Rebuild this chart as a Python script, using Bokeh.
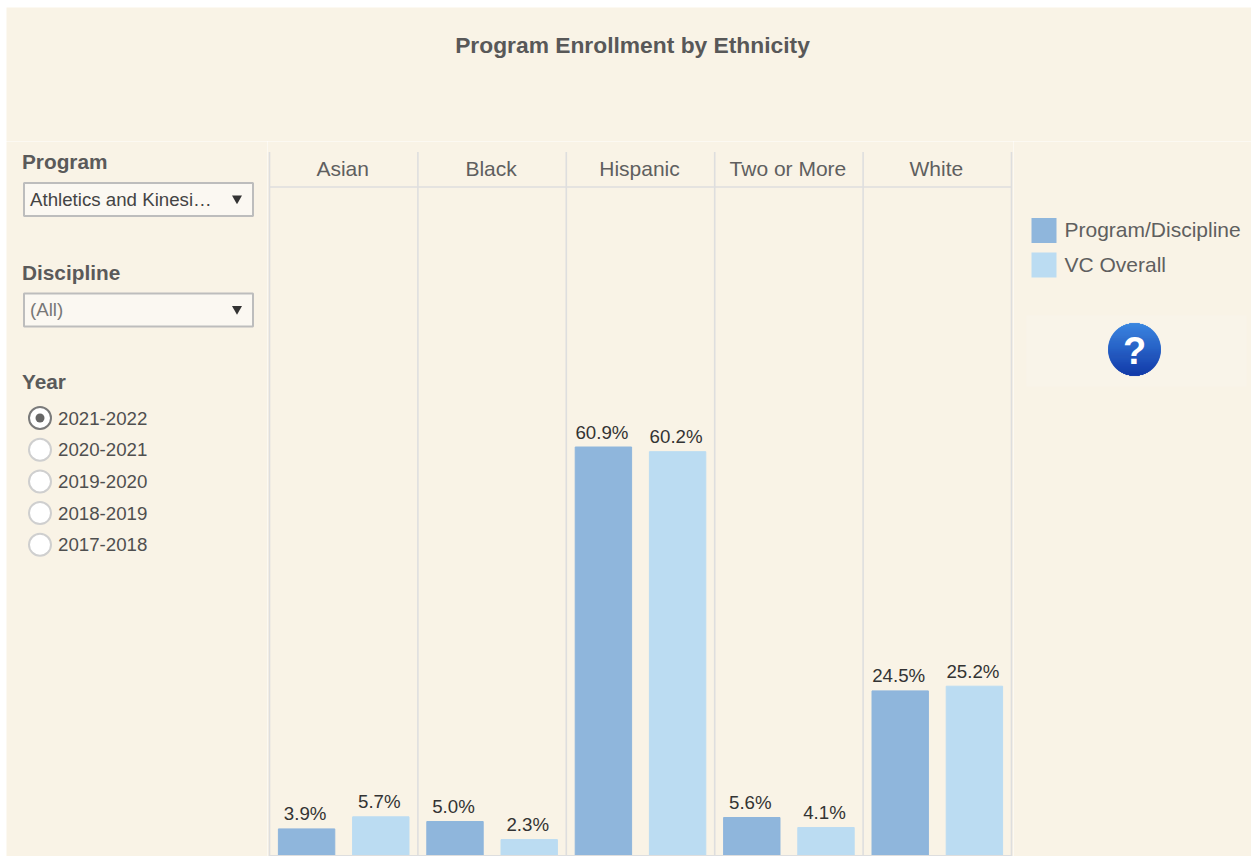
import numpy as np
from bokeh.core.properties import value
from bokeh.embed import file_html
from bokeh.layouts import column, row
from bokeh.models import ColumnDataSource, FactorRange, Range1d
from bokeh.plotting import figure
from bokeh.resources import INLINE

# ---- data ----
ethnicities = ["Asian", "Black", "Hispanic", "Two or More", "White"]
series_names = ["Program/Discipline", "VC Overall"]
program_values = [3.9, 5.0, 60.9, 5.6, 24.5]
overall_values = [5.7, 2.3, 60.2, 4.1, 25.2]
years = ["2021-2022", "2020-2021", "2019-2020", "2018-2019", "2017-2018"]
title_text = "Program Enrollment by Ethnicity"

# ---- style ----
BG = "#F9F3E6"
C1 = "#8FB6DC"
C2 = "#BBDCF2"
RULE = "#DEDEDE"
GREY = "#5F5F5F"
FONT = "Liberation Sans"
f = value(FONT)


def pane(w, h, x0, y0):
    """A figure whose data coordinates are the pixel coordinates of the reference."""
    p = figure(width=w, height=h, x_range=Range1d(x0, x0 + w), y_range=Range1d(y0 + h, y0),
               toolbar_location=None, output_backend="svg", min_border=0,
               background_fill_color=BG, border_fill_color=BG, outline_line_color=None)
    p.axis.visible = False
    p.grid.visible = False
    return p


def label(p, x, y, s, size, color=GREY, style="normal", align="left"):
    p.text(x=[x], y=[y], text=[s], text_font=f, text_font_size=f"{size}px", text_color=color,
           text_font_style=style, text_align=align, text_baseline="middle")


# ---- title strip ----
top = pane(1245, 134, 7, 8)
label(top, 633, 45, title_text, 22.8, "#585858", "bold", "center")

# ---- left controls ----
left = pane(261, 715, 6.5, 141.5)
label(left, 22, 161, "Program", 20.8, "#5A5A5A", "bold")
label(left, 22, 272, "Discipline", 20.8, "#5A5A5A", "bold")
label(left, 22, 381, "Year", 20.8, "#5A5A5A", "bold")
for yc, txt, col in [(199.5, "Athletics and Kinesi…", "#444444"), (310, "(All)", "#777777")]:
    left.rect(x=[138.5], y=[yc], width=229, height=33, fill_color="#FBF8F2",
              line_color="#BDBDBD", line_width=2)
    label(left, 30, yc - 0.5, txt, 18.7, col)
    left.scatter(x=[237], y=[yc - 1], marker="inverted_triangle", size=10,
                 fill_color="#333333", line_color=None)
for i, yr in enumerate(years):
    yc = 418 + i * 31.7
    left.scatter(x=[40], y=[yc], marker="circle", size=22, fill_color="#FFFFFF",
                 line_color="#7A7A7A" if i == 0 else "#CFCFCF", line_width=2)
    if i == 0:
        left.scatter(x=[40], y=[yc], marker="circle", size=9, fill_color="#666666", line_color=None)
    label(left, 58, yc, yr, 18.7, "#4F4F4F")

# ---- main chart ----
factors = [(e, s) for e in ethnicities for s in series_names]
src = ColumnDataSource(dict(
    x=factors,
    top=[v for pair in zip(program_values, overall_values) for v in pair],
    color=[C1, C2] * len(ethnicities),
))
src.data["label"] = [f"{v:.1f}%" for v in src.data["top"]]

main = figure(width=746, height=715,
              x_range=FactorRange(factors=factors, group_padding=0, factor_padding=0,
                                  subgroup_padding=0, range_padding=2 / 74.2,
                                  range_padding_units="absolute"),
              y_range=Range1d(-0.22, 106.5),
              toolbar_location=None, output_backend="svg", min_border=0,
              background_fill_color=BG, border_fill_color=BG, outline_line_color=None)
main.axis.visible = False
main.grid.visible = False

main.vbar(x="x", top="top", bottom=0, width=0.76, color="color", source=src)
main.text(x="x", y="top", text="label", source=src, x_offset=-1.5, y_offset=-15, text_font=f,
          text_font_size="18.7px", text_color="#333333", text_align="center", text_baseline="middle")
main.text(x=ethnicities, y=[102.4] * 5, text=ethnicities, x_offset=-1, text_font=f, text_font_size="21px",
          text_color=GREY, text_align="center", text_baseline="middle")
edges = [(e, series_names[0], -0.5) for e in ethnicities] + [(ethnicities[-1], series_names[1], 0.5)]
main.segment(x0=edges, x1=edges, y0=[-0.22] * 6, y1=[104.93] * 6, line_color=RULE, line_width=1.6)
main.segment(x0=[edges[0]] * 2, x1=[edges[-1]] * 2, y0=[99.7, -0.1], y1=[99.7, -0.1],
             line_color=RULE, line_width=1.6)

# ---- right legend + help ----
right = pane(238, 715, 1014, 142)
for yc, name, col in zip([231, 265.5], series_names, [C1, C2]):
    right.rect(x=[1044.5], y=[yc], width=25, height=25, fill_color=col, line_color=None)
    label(right, 1065, yc - 1, name, 21, GREY)
right.rect(x=[1137], y=[351.5], width=220, height=71, fill_color="#F9F4E9", line_color=None)
n = 52
ys = np.arange(n) + 0.5
c0, c1 = np.array([60, 135, 225]), np.array([20, 60, 170])
cols = ["#%02x%02x%02x" % tuple(int(a) for a in c0 + (c1 - c0) * t / (n - 1)) for t in range(n)]
half = np.sqrt(np.maximum(26 ** 2 - (ys - 26) ** 2, 0))
right.hbar(y=324 + ys, left=1135 - half, right=1135 + half, height=1.1, color=cols)
label(right, 1135, 351, "?", 38, "#FFFFFF", "bold", "center")

page = column(top, row(left, main, right, spacing=0), spacing=0, margin=(7, 0, 0, 6))
open("out.html", "w").write(file_html(page, INLINE))
